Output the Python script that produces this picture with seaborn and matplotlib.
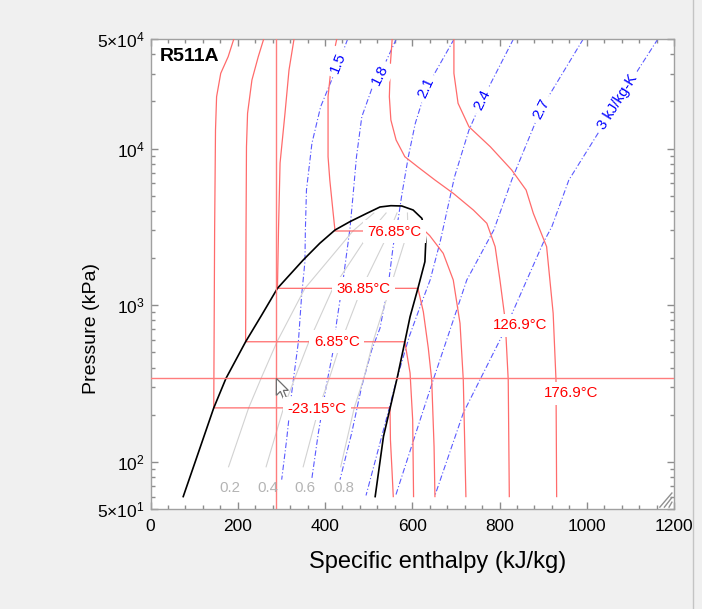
import numpy as np
import pandas as pd
import matplotlib
matplotlib.use("Agg")
import matplotlib.pyplot as plt
import matplotlib.ticker as mticker
from matplotlib.lines import Line2D
from matplotlib.patches import Polygon
from matplotlib.transforms import ScaledTranslation
import seaborn as sns

# ---------------- data ----------------
chart_title = "R511A"
x_label = "Specific enthalpy (kJ/kg)"
y_label = "Pressure (kPa)"

x_ticks = [0, 200, 400, 600, 800, 1000, 1200]
y_ticks = [50, 100, 1000, 10000, 50000]
y_tick_labels = ["5\u00d710$^{1}$", "10$^{2}$", "10$^{3}$", "10$^{4}$", "5\u00d710$^{4}$"]

# saturation dome (liquid side then vapour side)
dome_h = [75, 103, 145, 173, 218, 255, 291, 350, 388, 423, 457, 496, 526, 551, 576, 602,
          622, 628, 631, 629, 613, 595, 583, 566, 550, 534, 515]
dome_p = [60, 101, 221, 341, 584, 866, 1281, 1942, 2483, 3019, 3411, 3859, 4233, 4315, 4296, 4050,
          3584, 3096, 2542, 1894, 1281, 844, 584, 349, 225, 145, 60]

# constant-quality lines
quality_values = ["0.2", "0.4", "0.6", "0.8"]
quality_p = [93, 221, 349, 584, 1281, 2975, 3875]
quality_h_02 = [179, 225, 255, 290, 354, 464, 512]
quality_h_04 = [265, 305, 332, 363, 418, 505, 540]
quality_h_06 = [350, 386, 411, 437, 484, 548, 565]
quality_h_08 = [436, 467, 490, 510, 549, 590, 589]
quality_label_h = [181, 268, 354, 442]
quality_label_p = 68

# isotherms
iso_T_labels = ["-23.15\u00b0C", "6.85\u00b0C", "36.85\u00b0C", "76.85\u00b0C", "126.9\u00b0C", "176.9\u00b0C"]
iso_m23_h = [191, 178, 161, 151.5, 149, 147, 145, 549, 550, 553.5, 556.5]
iso_m23_p = [50000, 38540, 30200, 21410, 13120, 3019, 221, 221, 138, 89, 60]
iso_7_h = [259.5, 247, 232.5, 222.5, 220, 219, 218, 583, 595, 601, 603]
iso_7_p = [50000, 38540, 27370, 16780, 10260, 3019, 584, 584, 369, 185, 60]
iso_37_h = [329, 317.5, 308.3, 297, 293.4, 291, 613, 625.4, 636.8, 644.6, 650, 652]
iso_37_p = [50000, 31700, 16780, 8080, 3019, 1281, 1281, 908, 531, 333, 125, 60]
iso_77_h = [427, 415, 407, 407, 411, 418, 423, 629, 640, 671, 694, 709.5, 717, 723]
iso_77_p = [50000, 34980, 21410, 8865, 6295, 4050, 2975, 2975, 2780, 2143, 1448, 766, 333, 60]
iso_127_h = [554, 550, 547.5, 551, 563, 583, 613, 652, 694, 740, 771, 790, 801, 813, 820, 822.5]
iso_127_p = [50000, 34980, 21410, 15200, 11330, 8865, 7620, 6295, 5175, 4050, 3330, 2362, 1448, 804, 333, 60]
iso_177_h = [695.5, 695.5, 705, 730, 779, 828, 861, 877.5, 908, 923, 929.5, 931]
iso_177_p = [50000, 30200, 19430, 13770, 10260, 7290, 5433, 3859, 2362, 887, 333, 60]
iso_label_h = [381, 427, 488, 560, 847, 965]
iso_label_p = [218, 584, 1275, 2950, 747, 274]

# isentropes (second point of each is where its label sits)
ent_labels = ["1.5", "1.8", "2.1", "2.4", "2.7", "3 kJ/kg-K"]
ent_15_h = [452, 431, 390, 370, 357.5, 355, 354, 346.5, 339, 323.5, 312, 300.7]
ent_15_p = [50000, 34980, 18480, 10790, 5433, 3019, 1894, 1161, 584, 274, 138, 77]
ent_18_h = [563.5, 525.4, 509, 484.4, 472.2, 464, 457.3, 442, 426.8, 419, 404, 384.6, 369.5]
ent_18_p = [50000, 29460, 24810, 15960, 8865, 4925, 3096, 1484, 784, 517, 317, 152, 77]
ent_21_h = [696, 632, 607, 591, 576, 568, 556.6, 545, 526, 507, 484, 461, 434.4]
ent_21_p = [50000, 24230, 14480, 8865, 5049, 3584, 2421, 1345, 712, 517, 302, 152, 77]
ent_24_h = [832, 760.4, 730, 697, 664, 641, 618, 593, 564, 540, 517, 494]
ent_24_p = [50000, 20400, 13120, 6607, 2542, 1448, 978, 629, 333, 185, 106, 61]
ent_27_h = [992, 895, 828, 787, 725, 648, 618, 562]
ent_27_p = [50000, 17870, 6295, 3019, 1448, 333, 185, 61]
ent_30_h = [1163, 1071, 959, 920, 900, 809, 717, 652]
ent_30_p = [50000, 19900, 6295, 3170, 2494, 664, 205, 61]

# mouse cross-hair shown in the screenshot
cursor_h = 288.5
cursor_p = 341

# ---------------- styling ----------------
plt.rcParams["font.family"] = ["Liberation Sans", "DejaVu Sans"]
plt.rcParams["mathtext.fontset"] = "custom"
plt.rcParams["mathtext.rm"] = "Liberation Sans"
plt.rcParams["mathtext.it"] = "Liberation Sans:italic"
plt.rcParams["mathtext.bf"] = "Liberation Sans:bold"

BG = "#f0f0f0"
ISO_C = "#ff6b6b"
ENT_C = "#5a5aff"
Q_C = "#d2d2d2"

fig = plt.figure(figsize=(7.02, 6.09), dpi=100, facecolor=BG)
ax = fig.add_axes([150.5 / 702, 1 - 509 / 609, (674 - 150.5) / 702, (509 - 39) / 609])
ax.set_facecolor("white")
ax.set_yscale("log")
ax.set_xlim(0, 1200)
ax.set_ylim(50, 50000)


def curve(h, p, **kw):
    df = pd.DataFrame({"h": h, "p": p})
    sns.lineplot(data=df, x="h", y="p", sort=False, estimator=None, ax=ax,
                 legend=False, **kw)


# isentropes
ent_series = [(ent_15_h, ent_15_p), (ent_18_h, ent_18_p), (ent_21_h, ent_21_p),
              (ent_24_h, ent_24_p), (ent_27_h, ent_27_p), (ent_30_h, ent_30_p)]
for h, p in ent_series:
    curve(h, p, color=ENT_C, linewidth=0.8, linestyle=(0, (5, 2, 1, 2)), zorder=2)

# quality lines
for hq in [quality_h_02, quality_h_04, quality_h_06, quality_h_08]:
    curve(hq, quality_p, color=Q_C, linewidth=0.8, zorder=2)

# isotherms
iso_series = [(iso_m23_h, iso_m23_p), (iso_7_h, iso_7_p), (iso_37_h, iso_37_p),
              (iso_77_h, iso_77_p), (iso_127_h, iso_127_p), (iso_177_h, iso_177_p)]
for h, p in iso_series:
    curve(h, p, color=ISO_C, linewidth=0.9, zorder=3)

# saturation dome
curve(dome_h, dome_p, color="black", linewidth=1.2, zorder=4)

# cursor cross-hair
ax.axvline(cursor_h, color="#ff7d7d", linewidth=1.0, zorder=5)
ax.axhline(cursor_p, color="#ff7d7d", linewidth=1.0, zorder=5)

# mouse pointer glyph at the cross-hair (pixel offsets from its tip)
arrow_px = np.array([[0, 0], [0, -17], [4, -13], [7, -20], [10, -19], [7, -12], [12, -12]])
ptr = Polygon(arrow_px / 100.0, closed=True, facecolor="white", edgecolor="#6e6e6e",
              linewidth=0.9, zorder=7,
              transform=fig.dpi_scale_trans + ScaledTranslation(cursor_h, cursor_p, ax.transData))
ax.add_patch(ptr)

# ---------------- labels ----------------
box = dict(boxstyle="square,pad=0.3", facecolor="white", edgecolor="none")
lab_fs = 10.8
for txt, h, p in zip(iso_T_labels, iso_label_h, iso_label_p):
    ax.text(h, p, txt, color="#ff0000", fontsize=lab_fs, ha="center", va="center",
            bbox=box, zorder=8)

for (h, p), txt in zip(ent_series, ent_labels):
    a = ax.transData.transform((h[0], p[0]))
    b = ax.transData.transform((h[2], p[2]))
    ang = np.degrees(np.arctan2(a[1] - b[1], a[0] - b[0]))
    ax.text(h[1], p[1], txt, color="#0000ff", fontsize=lab_fs, ha="center", va="center",
            rotation=ang, rotation_mode="anchor", bbox=box, zorder=8)

for txt, h in zip(quality_values, quality_label_h):
    ax.text(h, quality_label_p, txt, color="#b4b4b4", fontsize=lab_fs, ha="center",
            va="center", zorder=8)

ax.text(0.018, 0.963, chart_title, transform=ax.transAxes, fontsize=14,
        fontweight="bold", ha="left", va="center", zorder=9)

# ---------------- axes ----------------
ax.set_xticks(x_ticks)
ax.xaxis.set_minor_locator(mticker.MultipleLocator(40))
ax.yaxis.set_major_locator(mticker.FixedLocator(y_ticks))
ax.yaxis.set_major_formatter(mticker.FixedFormatter(y_tick_labels))
ax.yaxis.set_minor_locator(mticker.LogLocator(base=10, subs=np.arange(2, 10)))
ax.yaxis.set_minor_formatter(mticker.NullFormatter())
ax.tick_params(which="both", direction="in", top=True, right=True, color="#8c8c8c",
               labelsize=12.5, labelcolor="black")
ax.tick_params(which="major", length=5, width=1)
ax.tick_params(which="minor", length=3, width=1)
ax.tick_params(axis="x", pad=7)
ax.tick_params(axis="y", pad=4)
for s in ax.spines.values():
    s.set_color("#a0a0a0")
    s.set_linewidth(1.0)

ax.set_xlabel(x_label, fontsize=17)
ax.set_ylabel(y_label, fontsize=14)
ax.xaxis.set_label_coords(0.549, -0.089)
ax.yaxis.set_label_coords(-0.097, 0.385)

# window resize grip in the lower-right corner
for k in (0.35, 0.68, 1.0):
    ax.plot([1 - 0.027 * k, 0.996], [0.004, 0.004 + 0.030 * k], transform=ax.transAxes,
            color="#909090", linewidth=1, zorder=9, clip_on=False)

# window edge on the right of the screenshot
fig.add_artist(Line2D([692.5 / 702, 692.5 / 702], [0, 1], transform=fig.transFigure,
                      color="#c4c4c4", linewidth=1))

fig.savefig("out.png", dpi=100, facecolor=BG)
